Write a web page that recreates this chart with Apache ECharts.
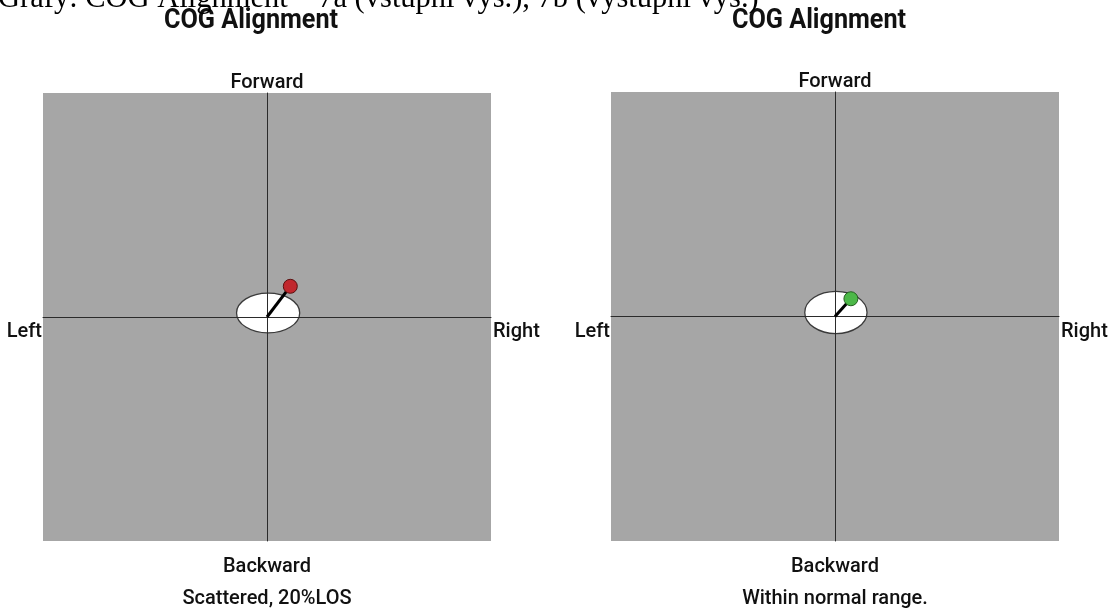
<!DOCTYPE html>
<html>
<head>
<meta charset="utf-8">
<script src="https://cdn.jsdelivr.net/npm/echarts@6/dist/echarts.min.js"></script>
<style>
html,body{margin:0;padding:0;background:#fff;}
#chart{width:1112px;height:611px;}
</style>
</head>
<body>
<div id="chart"></div>
<script>
// ---- data ----
const headerText = 'Grafy: COG Alignment – 7a (vstupní vyš.), 7b (výstupní vyš.)';
const titles = ['COG Alignment', 'COG Alignment'];
const captions = ['Scattered, 20%LOS', 'Within normal range.'];
const dirLabels = ['Forward', 'Backward', 'Left', 'Right'];
const axisRange = [-100, 100];
const cogX = [10.4, 7.1];
const cogY = [13.7, 7.9];
const zoneCx = [0.5, 0.4];
const zoneCy = [1.8, 1.8];
const zoneRx = [14.1, 13.9];
const zoneRy = [8.9, 9.4];
const pointColors = ['#c1272d', '#4cb848'];
const pointBorders = ['#5a1010', '#24601f'];

// ---- layout ----
const grids = [
  {left: 43, top: 93, width: 448, height: 448},
  {left: 611, top: 92, width: 448, height: 449}
];

const chart = echarts.init(document.getElementById('chart'), null, {renderer: 'canvas'});

const gridOpts = [], xAxes = [], yAxes = [], series = [], graphics = [];
const labelFont = '500 20px Roboto, "Noto Sans", sans-serif';

grids.forEach((g, i) => {
  gridOpts.push({left: g.left, top: g.top, width: g.width, height: g.height,
    show: true, backgroundColor: '#a6a6a6', borderWidth: 0});
  const axisCommon = {
    type: 'value', gridIndex: i, min: axisRange[0], max: axisRange[1], z: 3,
    axisLine: {show: true, onZero: true, lineStyle: {color: '#2b2b2b', width: 1}},
    axisTick: {show: false}, axisLabel: {show: false}, splitLine: {show: false}
  };
  xAxes.push(Object.assign({}, axisCommon));
  yAxes.push(Object.assign({}, axisCommon));

  // normal-range ellipse
  series.push({
    type: 'custom', xAxisIndex: i, yAxisIndex: i, z: 2, silent: true,
    data: [[zoneCx[i], zoneCy[i], zoneRx[i], zoneRy[i]]],
    renderItem: function (params, api) {
      const c = api.coord([api.value(0), api.value(1)]);
      const s = api.size([api.value(2), api.value(3)]);
      return {
        type: 'ellipse',
        shape: {cx: c[0], cy: c[1], rx: s[0], ry: s[1]},
        style: {fill: '#ffffff', stroke: '#3a3a3a', lineWidth: 1.3}
      };
    }
  });
  // vector from origin to COG
  series.push({
    type: 'line', xAxisIndex: i, yAxisIndex: i, z: 4, silent: true,
    showSymbol: false, symbol: 'none',
    lineStyle: {color: '#000', width: 3},
    data: [[0, 0], [cogX[i], cogY[i]]]
  });
  // COG point
  series.push({
    type: 'scatter', xAxisIndex: i, yAxisIndex: i, z: 5, silent: true,
    symbolSize: 14,
    itemStyle: {color: pointColors[i], borderColor: pointBorders[i], borderWidth: 1, opacity: 1},
    data: [[cogX[i], cogY[i]]]
  });

  const cx = g.left + g.width / 2;
  graphics.push({type: 'text', x: cx - 16, y: 21, scaleX: 0.9, originX: 0, originY: 0,
    style: {text: titles[i], font: 'bold 28px Roboto, "Noto Sans", sans-serif', fill: '#111',
      textAlign: 'center', textVerticalAlign: 'middle'}});
  graphics.push({type: 'text', x: cx, y: g.top - 10,
    style: {text: dirLabels[0], font: labelFont, fill: '#111', textAlign: 'center', textVerticalAlign: 'middle'}});
  graphics.push({type: 'text', x: cx, y: g.top + g.height + 26,
    style: {text: dirLabels[1], font: labelFont, fill: '#111', textAlign: 'center', textVerticalAlign: 'middle'}});
  graphics.push({type: 'text', x: g.left - 1, y: g.top + g.height / 2 + 15,
    style: {text: dirLabels[2], font: labelFont, fill: '#111', textAlign: 'right', textVerticalAlign: 'middle'}});
  graphics.push({type: 'text', x: g.left + g.width + 2, y: g.top + g.height / 2 + 15,
    style: {text: dirLabels[3], font: labelFont, fill: '#111', textAlign: 'left', textVerticalAlign: 'middle'}});
  graphics.push({type: 'text', x: cx, y: g.top + g.height + 58,
    style: {text: captions[i], font: labelFont, fill: '#111', textAlign: 'center', textVerticalAlign: 'middle'}});
});

graphics.push({type: 'text', x: -2, y: 14,
  style: {text: headerText, font: '30.5px "Liberation Serif", "DejaVu Serif", serif', fill: '#000',
    textAlign: 'left', textVerticalAlign: 'bottom'}});

chart.setOption({
  animation: false,
  backgroundColor: '#ffffff',
  grid: gridOpts,
  xAxis: xAxes,
  yAxis: yAxes,
  series: series,
  graphic: graphics
});
</script>
</body>
</html>
